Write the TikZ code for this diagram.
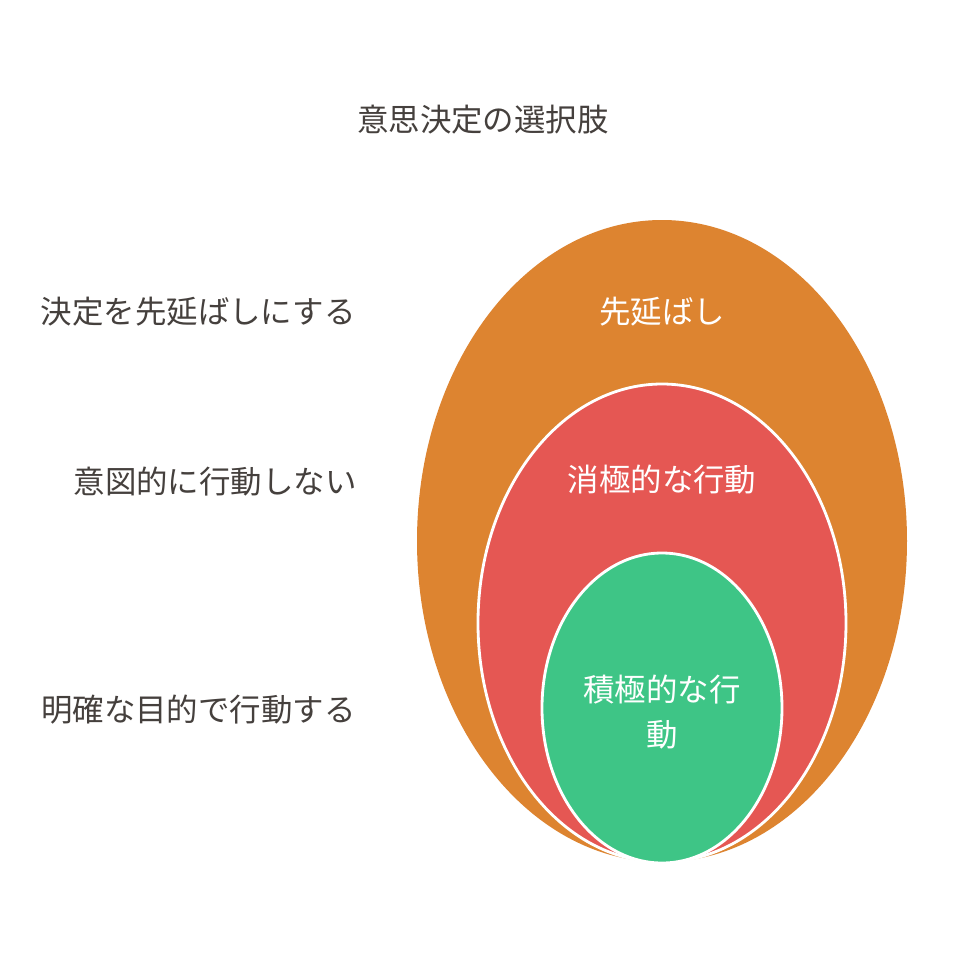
\documentclass[tikz,border=0pt]{standalone}
\usepackage{fontspec}
\setmainfont{Noto Sans CJK JP}
\usetikzlibrary{shapes.geometric}
\definecolor{delayorange}{HTML}{DD8430}
\definecolor{passivered}{HTML}{E55753}
\definecolor{activegreen}{HTML}{3EC586}
\definecolor{labelgray}{HTML}{45403D}
\tikzset{
  layer/.style={draw=white, line width=1.6pt, ellipse, inner sep=0pt},
  sidelabel/.style={anchor=east, inner sep=0pt, text=labelgray, font=\fontsize{17.9}{21}\selectfont},
  innerlabel/.style={text=white, align=center, font=\fontsize{17.9}{25.6}\selectfont}
}
\begin{document}
\begin{tikzpicture}[x=0.02cm, y=-0.02cm]
    \useasboundingbox (0,0) rectangle (965,965);
    \fill[white] (0,0) rectangle (965,965);
    \node[text=labelgray, font=\fontsize{17.9}{21}\selectfont] (title) at (483,120) {意思決定の選択肢};
    % nested options
    \node[layer, draw=none, fill=delayorange, minimum width=490*0.02cm, minimum height=642*0.02cm] (outer) at (662,541) {};
    \node[layer, fill=passivered, minimum width=368*0.02cm, minimum height=478*0.02cm] (middle) at (662,623) {};
    \node[layer, fill=activegreen, minimum width=240*0.02cm, minimum height=310*0.02cm] (inner) at (662,708) {};
    \node[innerlabel] (delay) at (662,312) {先延ばし};
    \node[innerlabel] (passive) at (662,480) {消極的な行動};
    \node[innerlabel] (active) at (662,712) {積極的な行\\動};
    % descriptions
    \node[sidelabel] (delaytext) at (356,312) {決定を先延ばしにする};
    \node[sidelabel] (passivetext) at (357,482) {意図的に行動しない};
    \node[sidelabel] (activetext) at (356,710) {明確な目的で行動する};
\end{tikzpicture}
\end{document}
